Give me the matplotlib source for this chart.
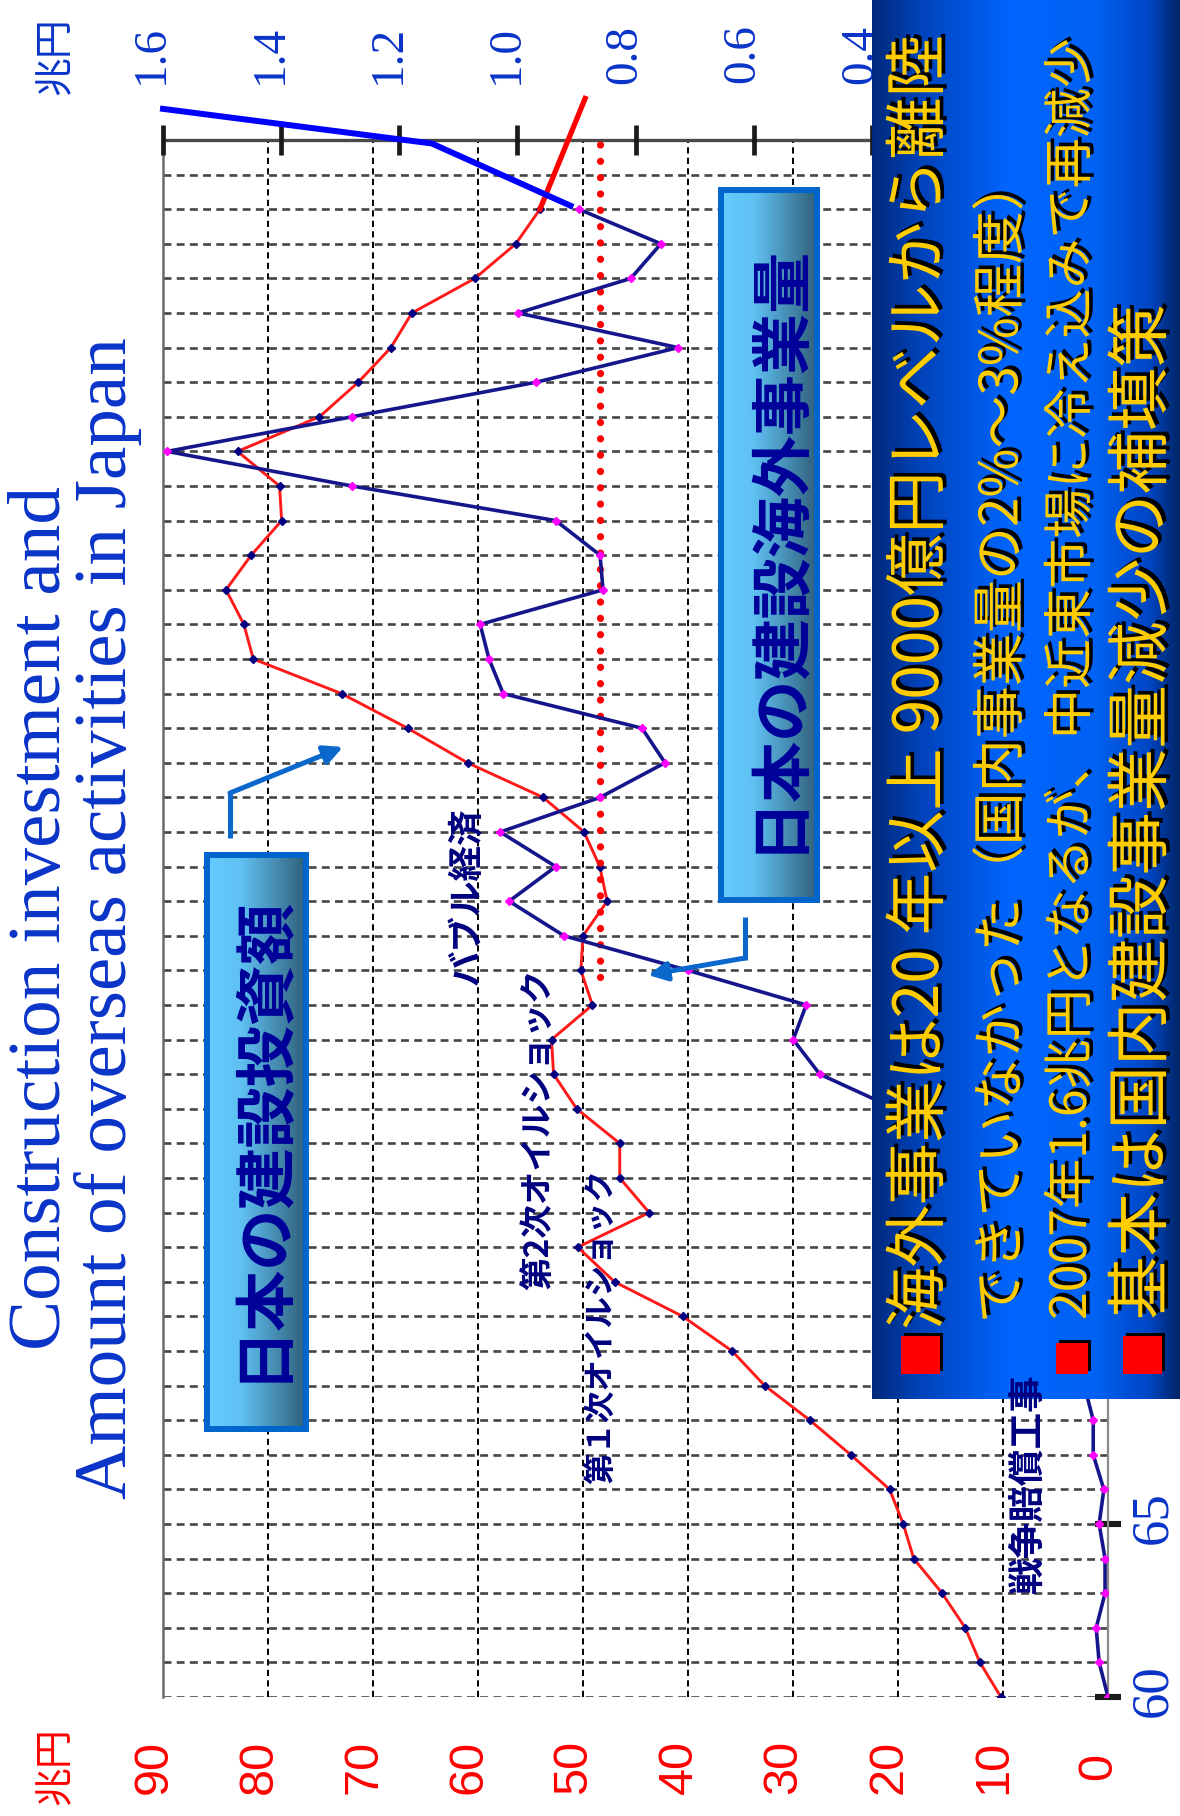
import numpy as np
import matplotlib
matplotlib.use('Agg')
import matplotlib.pyplot as plt
from matplotlib.transforms import blended_transform_factory, ScaledTranslation
from matplotlib.patches import Rectangle
from matplotlib.colors import LinearSegmentedColormap
import matplotlib.patheffects as pe

plt.rcParams['font.family'] = ['Noto Sans CJK JP', 'DejaVu Sans']

# ---------------- data ----------------
years = list(range(1960, 2004))
# 日本の建設投資額 (兆円, left axis)
investment = [10.2, 12.2, 13.6, 15.8, 18.5, 19.5, 20.8, 24.5, 28.4, 32.7,
              35.8, 40.5, 47.0, 50.5, 43.7, 46.5, 46.5, 50.6, 52.8, 53.0,
              49.1, 50.2, 50.0, 47.7, 48.4, 49.9, 53.8, 61.0, 66.7, 73.0,
              81.4, 82.3, 84.0, 81.6, 78.7, 78.9, 82.9, 75.1, 71.4, 68.3,
              66.3, 60.3, 56.4, 54.1]
# 日本の建設海外事業量 (兆円, right axis)
overseas = [0.00, 0.015, 0.02, 0.005, 0.005, 0.015, 0.007, 0.025, 0.025, 0.04,
            0.06, 0.08, 0.10, 0.15, 0.20, 0.24, 0.30, 0.36, 0.488, 0.533,
            0.511, 0.711, 0.921, 1.014, 0.935, 1.029, 0.860, 0.750, 0.789, 1.024,
            1.048, 1.063, 0.855, 0.860, 0.935, 1.280, 1.593, 1.280, 0.968, 0.728,
            0.999, 0.808, 0.757, 0.896]
# hand-drawn extensions
ext_red_years = [2003.0, 2006.2]
ext_red_vals = [54.1, 49.8]
ext_blue_years = [2003.1, 2004.9, 2005.9]
ext_blue_vals = [0.91, 1.145, 1.60]
ref_level = 0.86
ref_years = [1980.8, 2004.9]

left_ticks = list(range(0, 100, 10))
right_ticks = [0.0, 0.2, 0.4, 0.6, 0.8, 1.0, 1.2, 1.4, 1.6]
year_ticks = list(range(1960, 2006, 5))
year_labels = ['60', '65', '70', '75', '80', '85', '90', '95', '00', '05']

title_lines = ['Construction investment and', 'Amount of overseas activities in Japan']
unit_label = '兆円'
box1_label = '日本の建設投資額'
box2_label = '日本の建設海外事業量'
events = ['バブル経済', '第2次オイルショック', '第１次オイルショック', '戦争賠償工事']
notes = ['海外事業は20 年以上 9000億円レベルから離陸',
         'できていなかった（国内事業量の2%～3%程度）',
         '2007年1.6兆円となるが、中近東市場に冷え込みで再減少',
         '基本は国内建設事業量減少の補填策']

# ---------------- figure ----------------
W, H = 1180, 1816
fig = plt.figure(figsize=(W / 100, H / 100), dpi=100)
fig.patch.set_facecolor('white')
CJK = ['Noto Sans CJK JP', 'DejaVu Sans']
BLUE_TXT = '#0a34c8'


def fit(t, target):
    r = fig.canvas.get_renderer()
    bb = t.get_window_extent(renderer=r)
    t.set_fontsize(t.get_fontsize() * target / bb.height)


ax = fig.add_axes([163 / W, 1 - 1697 / H, (1108 - 163) / W, (1697 - 140) / H])
ax.set_xlim(90, 0)
ax.set_ylim(1960, 2005)
ax.set_facecolor('none')

for yr in range(1960, 2005):
    ax.axhline(yr, color='#454545', lw=1.9, ls=(0, (3.0, 2.0)), zorder=1)
for v in left_ticks[1:]:
    ax.axvline(v, color='#000000', lw=1.4, ls=(0, (3.2, 2.2)), zorder=1)

ax.spines['bottom'].set_visible(False)
ax.spines['left'].set_color('#6a6a6a')
ax.spines['left'].set_linewidth(1.8)
ax.spines['top'].set_color('#4a4a4a')
ax.spines['top'].set_linewidth(2.4)
ax.spines['right'].set_color('#8a8a8a')
ax.spines['right'].set_linewidth(1.6)
ax.set_xticks([])
ax.yaxis.tick_right()
ax.set_yticks(year_ticks)
ax.tick_params(axis='y', direction='inout', length=19, width=4.4, color='#1a1a1a',
               labelright=False, labelleft=False, right=True, left=False)

ax2 = ax.twiny()
ax2.set_xlim(1.6, 0)
ax2.set_xticks(right_ticks)
ax2.tick_params(axis='x', direction='inout', length=21, width=3.4, color='#1a1a1a',
                labeltop=False, labelbottom=False, top=True, bottom=False)
for sp in ax2.spines.values():
    sp.set_visible(False)

ax.plot(investment, years, color='#ff1a1a', lw=2.1, marker='D', ms=4.4,
        mfc='#000080', mec='#000080', zorder=3)
ax.plot(ext_red_vals, ext_red_years, color='#ff0000', lw=3.8, clip_on=False, zorder=4)
ax2.plot([ref_level, ref_level], ref_years, color='#ff0000', lw=5.2,
         ls=(0, (0.01, 2.25)), dash_capstyle='round', zorder=2)
ax2.plot(overseas, years, color='#16168c', lw=2.6, marker='D', ms=4.4,
         mfc='#ff00ff', mec='#ff00ff', zorder=3)
ax2.plot(ext_blue_vals, ext_blue_years, color='#0000ff', lw=4.3, clip_on=False, zorder=4)

# tick labels
tr_red = blended_transform_factory(ax.transData, fig.transFigure) + \
    ScaledTranslation(-0.09, 0, fig.dpi_scale_trans)
for v in left_ticks:
    ax.text(v, 1 - 1767 / H, str(v), transform=tr_red, rotation=90, ha='center',
            va='center', color='#ff0000', fontsize=35, family='Liberation Sans')
tr_blue = blended_transform_factory(ax2.transData, fig.transFigure) + \
    ScaledTranslation(-0.11, 0, fig.dpi_scale_trans)
for v in right_ticks:
    ax2.text(v, 1 - 54 / H, ('%.1f' % v) if v > 0 else '0', transform=tr_blue, rotation=90,
             ha='center', va='center', color=BLUE_TXT, fontsize=34, family='Liberation Serif')
tr_year = blended_transform_factory(fig.transFigure, ax.transData) + \
    ScaledTranslation(0, 0.06, fig.dpi_scale_trans)
for yr, lab in zip(year_ticks, year_labels):
    ax.text(1153 / W, yr, lab, transform=tr_year, rotation=90, ha='center', va='center',
            color=BLUE_TXT, fontsize=38, family='Liberation Serif')

fig.text(55 / W, 1 - 56 / H, unit_label, rotation=90, ha='center', va='center',
         color=BLUE_TXT, fontsize=28, family=CJK)
fig.text(55 / W, 1 - 1766 / H, unit_label, rotation=90, ha='center', va='center',
         color='#ff0000', fontsize=28, family=CJK)

t1 = fig.text(42 / W, 1 - 918 / H, title_lines[0], rotation=90, ha='center', va='center',
              color=BLUE_TXT, fontsize=52, family='Liberation Serif')
t2 = fig.text(108 / W, 1 - 918 / H, title_lines[1], rotation=90, ha='center', va='center',
              color=BLUE_TXT, fontsize=52, family='Liberation Serif')
fit(t2, 1164)
t1.set_fontsize(t2.get_fontsize())

# ---------------- overlay (annotations) ----------------
ov = fig.add_axes([0, 0, 1, 1])
ov.set_zorder(10)
ov.axis('off')


def grad(x0, x1, y0, y1, stops, z):
    cm = LinearSegmentedColormap.from_list('g', stops)
    g = np.linspace(0, 1, 256).reshape(1, -1)
    ov.imshow(g, cmap=cm, extent=(x0, x1, y1, y0), aspect='auto', zorder=z,
              interpolation='bilinear')


light_stops = [(0, '#66ccff'), (0.35, '#5fc0f2'), (1, '#30607a')]
grad(207, 306, 855, 1429, light_stops, 2)
ov.add_patch(Rectangle((207, 855), 99, 574, fill=False, ec='#0066cc', lw=4.3, zorder=3))
grad(721, 817, 190, 900, light_stops, 2)
ov.add_patch(Rectangle((721, 190), 96, 710, fill=False, ec='#0066cc', lw=4.3, zorder=3))

b1 = ov.text(262, 1138, box1_label, rotation=90, ha='center', va='center', color='#000099',
             fontsize=44, fontweight='bold', family=CJK, zorder=4)
b2 = ov.text(778, 547, box2_label, rotation=90, ha='center', va='center', color='#000099',
             fontsize=44, fontweight='bold', family=CJK, zorder=4)

# arrows
AC = '#0a68cc'
ov.plot([230, 230], [838, 791], color=AC, lw=3.6, solid_capstyle='butt', zorder=3)
ov.annotate('', xy=(343, 747), xytext=(230, 793),
            arrowprops=dict(arrowstyle='-|>', lw=3.6, color=AC, mutation_scale=28,
                            shrinkA=0, shrinkB=0), zorder=3)
ov.plot([745, 745], [917, 960], color=AC, lw=3.6, solid_capstyle='butt', zorder=3)
ov.annotate('', xy=(648, 975), xytext=(745, 958),
            arrowprops=dict(arrowstyle='-|>', lw=3.6, color=AC, mutation_scale=28,
                            shrinkA=0, shrinkB=0), zorder=3)

ev_pos = [(468, 896, 178), (540, 1129, 322), (601, 1327, 315), (1028, 1483, 220)]
for txt, (x, y, L) in zip(events, ev_pos):
    t = ov.text(x, y, txt, rotation=90, ha='center', va='center', color='#000080',
                fontsize=24, fontweight='bold', family=CJK, zorder=9)
    fit(t, L)

# big note box
big_stops = [(0, '#00297a'), (0.15, '#0042b8'), (0.45, '#0066ff'), (0.72, '#0062f4'),
             (0.9, '#0046c4'), (1, '#002566')]
grad(872, 1180, 0, 1399, big_stops, 5)

shadow = [pe.withSimplePatchShadow(offset=(2.6, 2.6), shadow_rgbFace='black', alpha=1.0)]
note_pos = [(920, 1330, 1295), (1002, 1323, 1165), (1072, 1320, 1282), (1143, 1320, 1016)]
for txt, (x, y, L) in zip(notes, note_pos):
    t = ov.text(x, y, txt, rotation=90, ha='center', va='bottom', color='#ffcc00',
                fontsize=44, family=CJK, zorder=7, path_effects=shadow)
    fit(t, L)

for (x0, x1, y0, y1) in [(901, 940, 1336, 1374), (1056, 1088, 1343, 1374),
                         (1123, 1162, 1336, 1374)]:
    ov.add_patch(Rectangle((x0 + 3, y0 - 3), x1 - x0, y1 - y0, fc='black', ec='none', zorder=6))
    ov.add_patch(Rectangle((x0, y0), x1 - x0, y1 - y0, fc='#ff0000', ec='none', zorder=6.5))

ov.set_xlim(0, W)
ov.set_ylim(H, 0)

fig.savefig('out.png', dpi=100)
